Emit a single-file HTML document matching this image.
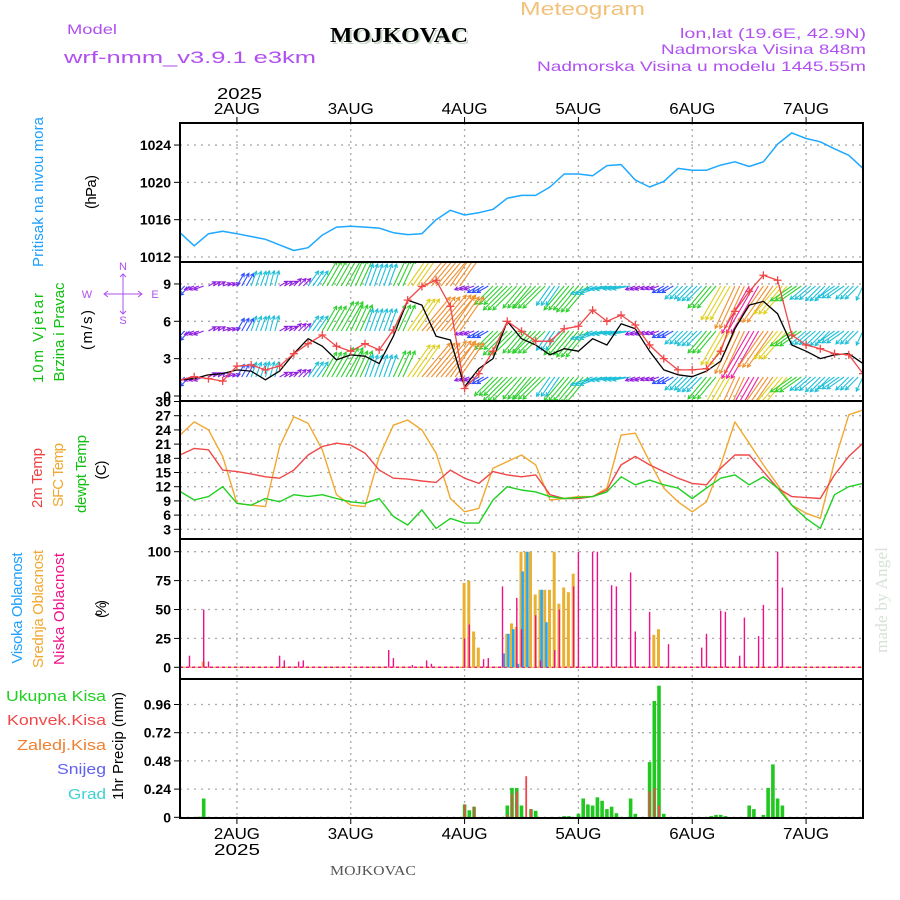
<!DOCTYPE html>
<html><head><meta charset="utf-8"><style>
html,body{margin:0;padding:0;background:#fff;}
svg{display:block;font-family:"Liberation Sans",sans-serif;}
</style></head><body>
<svg id="chart" width="900" height="900" viewBox="0 0 900 900" xmlns="http://www.w3.org/2000/svg">
<rect x="0" y="0" width="900" height="900" fill="#fff"/>
<defs><clipPath id="windclip"><rect x="180" y="262" width="683" height="139"/></clipPath>
<clipPath id="plotclip"><rect x="180" y="123" width="683" height="695"/></clipPath></defs>
<g id="grid"></g>
<g id="marks"></g>
<g id="axes"></g>

<text x="520" y="15" font-size="18" fill="#f2c27a" textLength="125" lengthAdjust="spacingAndGlyphs">Meteogram</text>
<text x="67" y="34" font-size="14" fill="#b050f0" textLength="50" lengthAdjust="spacingAndGlyphs">Model</text>
<text x="64" y="63" font-size="17" fill="#b050f0" textLength="252" lengthAdjust="spacingAndGlyphs">wrf-nmm_v3.9.1 e3km</text>
<text x="332" y="44" font-size="21" font-weight="bold" font-family="Liberation Serif,serif" fill="#c8d8c8" textLength="138" lengthAdjust="spacingAndGlyphs">MOJKOVAC</text>
<text x="330" y="42" font-size="21" font-weight="bold" font-family="Liberation Serif,serif" fill="#000" textLength="138" lengthAdjust="spacingAndGlyphs">MOJKOVAC</text>
<text x="866" y="38" font-size="14" fill="#b050f0" text-anchor="end" textLength="186" lengthAdjust="spacingAndGlyphs">lon,lat (19.6E, 42.9N)</text>
<text x="866" y="54" font-size="14" fill="#b050f0" text-anchor="end" textLength="205" lengthAdjust="spacingAndGlyphs">Nadmorska Visina 848m</text>
<text x="866" y="71" font-size="14" fill="#b050f0" text-anchor="end" textLength="329" lengthAdjust="spacingAndGlyphs">Nadmorska Visina u modelu 1445.55m</text>

<text transform="translate(43,192) rotate(-90)" font-size="15" fill="#1ea0ff" text-anchor="middle" textLength="150" lengthAdjust="spacing">Pritisak na nivou mora</text>
<text transform="translate(96,192) rotate(-90)" font-size="15" fill="#000" text-anchor="middle" textLength="34" lengthAdjust="spacing">(hPa)</text>
<text transform="translate(43,338) rotate(-90)" font-size="15" fill="#10c010" text-anchor="middle" textLength="90" lengthAdjust="spacing">10m Vjetar</text>
<text transform="translate(64,332) rotate(-90)" font-size="15" fill="#10c010" text-anchor="middle" textLength="99" lengthAdjust="spacing">Brzina i Pravac</text>
<text transform="translate(92,330) rotate(-90)" font-size="15" fill="#000" text-anchor="middle" textLength="40" lengthAdjust="spacing">(m/s)</text>
<text x="123" y="270" font-size="11" fill="#b050f0" text-anchor="middle">N</text>
<text x="123" y="324" font-size="11" fill="#b050f0" text-anchor="middle">S</text>
<text x="87" y="298" font-size="11" fill="#b050f0" text-anchor="middle">W</text>
<text x="155" y="298" font-size="11" fill="#b050f0" text-anchor="middle">E</text>
<path d="M104 294H142M123 274V314M108 291L104 294L108 297M138 291L142 294L138 297M120 277L123 274L126 277M120 311L123 314L126 311" fill="none" stroke="#b050f0" stroke-width="1"/>
<text transform="translate(42,478) rotate(-90)" font-size="15" fill="#f04040" text-anchor="middle" textLength="60" lengthAdjust="spacing">2m Temp</text>
<text transform="translate(63,475) rotate(-90)" font-size="15" fill="#f0a830" text-anchor="middle" textLength="64" lengthAdjust="spacing">SFC Temp</text>
<text transform="translate(86,474) rotate(-90)" font-size="15" fill="#10c010" text-anchor="middle" textLength="78" lengthAdjust="spacing">dewpt Temp</text>
<text transform="translate(106,470) rotate(-90)" font-size="15" fill="#000" text-anchor="middle" textLength="19" lengthAdjust="spacing">(C)</text>
<text transform="translate(22,608) rotate(-90)" font-size="15" fill="#1ea0ff" text-anchor="middle" textLength="111" lengthAdjust="spacing">Visoka Oblacnost</text>
<text transform="translate(43,609) rotate(-90)" font-size="15" fill="#f0a830" text-anchor="middle" textLength="118" lengthAdjust="spacing">Srednja Oblacnost</text>
<text transform="translate(64,609) rotate(-90)" font-size="15" fill="#f0108a" text-anchor="middle" textLength="112" lengthAdjust="spacing">Niska Oblacnost</text>
<text transform="translate(106,609) rotate(-90)" font-size="15" fill="#000" text-anchor="middle" textLength="18" lengthAdjust="spacing">(%)</text>
<g font-size="15" text-anchor="end">
<text x="106" y="701" fill="#20d020" textLength="100" lengthAdjust="spacingAndGlyphs">Ukupna Kisa</text>
<text x="106" y="725" fill="#f04848" textLength="99" lengthAdjust="spacingAndGlyphs">Konvek.Kisa</text>
<text x="106" y="750" fill="#f08030" textLength="89" lengthAdjust="spacingAndGlyphs">Zaledj.Kisa</text>
<text x="106" y="774" fill="#6060f0" textLength="49" lengthAdjust="spacingAndGlyphs">Snijeg</text>
<text x="106" y="799" fill="#40d0d0" textLength="38" lengthAdjust="spacingAndGlyphs">Grad</text>
</g>
<text transform="translate(123,746) rotate(-90)" font-size="15" fill="#000" text-anchor="middle" textLength="108" lengthAdjust="spacing">1hr Precip (mm)</text>
<text transform="translate(887,600) rotate(-90)" font-size="17" font-family="Liberation Serif,serif" fill="#d6e2d6" text-anchor="middle" textLength="106" lengthAdjust="spacing">made by Angel</text>
<text x="330" y="875" font-size="14" font-family="Liberation Serif,serif" fill="#555" textLength="86" lengthAdjust="spacingAndGlyphs">MOJKOVAC</text>
<text x="217" y="99" font-size="16" fill="#000" textLength="45" lengthAdjust="spacingAndGlyphs">2025</text>
<text x="214" y="855" font-size="16" fill="#000" textLength="46" lengthAdjust="spacingAndGlyphs">2025</text>
</svg>
<script>
// hours since 2025-08-01 12Z, 3-hourly samples (0..144)
const hours3 = [0,3,6,9,12,15,18,21,24,27,30,33,36,39,42,45,48,51,54,57,60,63,66,69,72,75,78,81,84,87,90,93,96,99,102,105,108,111,114,117,120,123,126,129,132,135,138,141,144];
const dayLabels = ["2AUG","3AUG","4AUG","5AUG","6AUG","7AUG"];
const dayHours = [12,36,60,84,108,132];
const pressure = [1014.6,1013.2,1014.5,1014.75,1014.5,1014.2,1013.9,1013.3,1012.7,1013.0,1014.35,1015.2,1015.3,1015.2,1015.1,1014.6,1014.4,1014.5,1016.0,1017.0,1016.5,1016.75,1017.1,1018.3,1018.6,1018.6,1019.5,1020.9,1020.9,1020.7,1021.8,1021.9,1020.25,1019.5,1020.1,1021.5,1021.3,1021.3,1021.85,1022.2,1021.7,1022.2,1024.1,1025.3,1024.7,1024.35,1023.6,1022.9,1021.5];
const windSpeed = [1.3,1.4,1.7,1.8,2.1,2.0,1.3,2.0,3.4,4.6,4.0,2.9,3.3,3.2,2.6,4.8,7.7,7.3,4.8,4.5,0.75,2.2,3.0,6.0,4.6,4.1,3.3,3.8,3.6,4.6,4.1,5.8,5.4,3.6,2.1,1.7,1.55,2.0,2.8,5.4,7.3,7.6,6.6,4.1,3.6,3.0,3.3,3.4,2.6];
const windGust = [1.3,1.55,1.4,1.2,2.4,2.5,2.1,2.4,3.4,4.2,4.9,4.0,3.6,4.2,3.7,5.3,7.7,8.8,9.3,7.2,0.6,1.8,3.6,6.0,5.2,4.4,4.4,5.4,5.6,6.9,6.0,6.5,5.7,4.1,3.0,2.1,2.1,2.2,3.6,6.8,8.4,9.7,9.3,4.9,4.1,3.8,3.4,3.3,1.8];
// wind arrow direction (screen angle the arrow points to, deg ccw from east) and speed
const windDir = [225,200,30,20,60,70,75,30,45,55,60,60,65,70,70,65,55,50,50,55,200,210,225,225,230,225,235,230,230,200,190,190,200,200,210,225,225,230,240,245,240,235,230,215,220,225,215,225,245];
const windBarbSpeed = [2.5,2.0,1.6,1.6,2.8,3.0,3.0,1.8,2.0,3.5,5.5,6.5,5.5,4.5,4.5,5.5,7.5,8.5,9.0,8.0,2.0,2.5,5.0,6.5,5.5,6.0,4.5,6.0,6.5,4.5,4.0,3.5,2.0,1.8,2.5,3.5,4.0,5.5,7.5,9.0,10.5,8.5,7.0,5.0,4.0,4.0,4.0,3.5,3.0];
const temp2m = [18.7,20.1,19.8,15.5,15.2,14.7,14.1,13.8,15.5,18.7,20.5,21.2,20.8,19.1,15.5,13.8,13.6,13.2,12.9,15.5,13.8,12.7,15.2,14.5,14.1,14.5,10.3,9.5,9.5,9.9,11.3,16.6,18.4,16.6,15.2,13.8,12.7,12.4,15.9,18.7,18.7,15.2,11.7,9.9,9.7,9.5,14.5,18.4,21.2];
const tempSfc = [22.9,25.7,24.0,18.4,8.5,8.1,7.8,20.5,26.8,25.4,19.8,10.3,8.1,7.8,18.4,25.0,26.1,24.0,19.1,9.5,6.7,7.4,15.9,17.3,18.7,16.6,9.2,9.5,9.9,9.9,11.7,22.9,23.3,17.3,11.7,8.8,6.7,8.8,16.6,25.7,21.2,16.6,12.4,8.1,6.4,5.3,17.3,27.2,28.2];
const tempDew = [11.0,9.2,9.9,12.0,8.5,8.1,9.5,8.8,10.3,9.9,10.3,9.5,8.8,8.5,9.5,5.7,3.9,7.1,3.2,5.3,4.3,4.3,9.2,12.0,11.3,10.9,9.9,9.5,9.7,9.9,10.9,14.1,12.4,13.4,12.4,11.7,9.5,11.7,13.8,14.5,12.4,14.1,11.7,8.1,5.3,3.2,10.3,12.0,12.7];
// cloud cover events (hour, %)
const lowCloudHours = [2,5,6,21,22,25,26,44,45,49,52,53,60,61,64,65,68,71,72,75,76,79,80,83,84,87,88,91,92,95,96,99,103,110,111,114,115,118,119,122,123,126,127];
const lowCloud = [10,50,5,10,6,5,6,15,8,2,6,3,25,37,7,8,70,60,33,45,6,15,50,70,100,100,100,71,70,82,31,48,20,17,29,49,48,10,43,27,54,100,69];
const midCloudHours = [5,60,61,62,63,69,70,71,72,73,74,75,76,77,78,79,80,81,82,83,100,101];
const midCloud = [5,73,75,31,17,29,38,35,100,100,100,63,67,67,67,100,55,69,65,81,28,33];
const highCloudHours = [68,69,70,71,72,73,76,77];
const highCloud = [12,29,33,3,83,100,67,39];
// precipitation (hour, mm)
const totalPrecipHours = [4,5,60,61,62,69,70,71,72,74,75,81,82,84,85,86,87,88,89,90,91,92,95,96,99,100,101,102,112,113,114,115,120,121,123,124,125,126,127];
const totalPrecip = [0.005,0.16,0.11,0.06,0.09,0.1,0.25,0.25,0.1,0.07,0.055,0.01,0.01,0.03,0.16,0.11,0.1,0.17,0.14,0.07,0.09,0.035,0.16,0.03,0.47,0.99,1.12,0.03,0.01,0.02,0.02,0.01,0.1,0.07,0.02,0.25,0.45,0.16,0.1];
const convPrecipHours = [60,62,69,70,71,73,74,99,100,101];
const convPrecip = [0.11,0.09,0.02,0.2,0.22,0.35,0.07,0.22,0.25,0.1];
const pTicks = [1012,1016,1020,1024];
const wTicks = [0,3,6,9];
const tTicks = [3,6,9,12,15,18,21,24,27,30];
const cTicks = [0,25,50,75,100];
const rTicks = [0,0.24,0.48,0.72,0.96];

const NS="http://www.w3.org/2000/svg";
const X0=180, X1=863, PXH=4.743;
const xh = h => X0 + h*PXH;
const yP = p => 257 - (p-1012)*9.33;
const yW = v => 396 - v*12.45;
const yT = t => 529.3 - (t-3)*4.733;
const yC = c => 667.3 - c*1.156;
const yR = r => 817.3 - r*117.5;
const panels = [[123,262],[262,401],[401,539],[539,679],[679,818]];

function mk(tag, parent, attrs){const e=document.createElementNS(NS,tag);for(const k in attrs)e.setAttribute(k,attrs[k]);parent.appendChild(e);return e;}
const grid=document.getElementById('grid'), marks=document.getElementById('marks'), axes=document.getElementById('axes');

dayHours.forEach((h,i)=>{
  const g=mk('line',grid,{x1:xh(h),x2:xh(h),y1:123,y2:818,stroke:'#aaa','stroke-width':1.3,'stroke-dasharray':'2 4'});
  
  
});
function hgrid(ticks, yf, fmt, name){
  ticks.forEach(t=>{
    const y=yf(t);
    const l=mk('line',grid,{x1:X0,x2:X1,y1:y,y2:y,stroke:'#aaa','stroke-width':1.3,'stroke-dasharray':'2 5'});
    
    
    mk('line',axes,{x1:174,x2:X0,y1:y,y2:y,stroke:'#000','stroke-width':1});
    const tx=mk('text',axes,{x:171,y:y+5,'font-size':14,'font-weight':'bold','text-anchor':'end',fill:'#000'});
    tx.textContent=fmt(t);
    
    
  });
}
hgrid(pTicks,yP,t=>String(t),'pressure');
hgrid(wTicks,yW,t=>String(t),'wind');
hgrid(tTicks,yT,t=>String(t),'temp');
hgrid(cTicks,yC,t=>String(t),'cloud');
hgrid(rTicks,yR,t=>t===0?'0':t.toFixed(2),'precip');

function line(vals, yf, color, name, w){
  const d=vals.map((v,i)=>(i?'L':'M')+xh(hours3[i]).toFixed(1)+' '+yf(v).toFixed(1)).join('');
  const p=mk('path',marks,{d:d,fill:'none',stroke:color,'stroke-width':w||1.4,'stroke-linejoin':'round','clip-path':'url(#plotclip)'});
  
  
  return p;
}
line(pressure,yP,'#1ea8ff','pressure-line',1.5);

const windG=mk('g',marks,{'clip-path':'url(#windclip)'});


function windColor(s){if(s<2.2)return '#9020e0';if(s<3)return '#3050ff';if(s<5)return '#20c0d8';if(s<7)return '#30d030';if(s<8)return '#e0d020';if(s<10)return '#f09030';return '#f020a0';}
const rows=[286,331,377];
rows.forEach(by=>{
  for(let h=0;h<=144;h++){
    const i=Math.min(48,Math.floor(h/3));
    const a=windDir[i]*Math.PI/180, L=windBarbSpeed[i]*5.2;
    const x0=xh(h), x1=x0+Math.cos(a)*L, y1=by-Math.sin(a)*L;
    const c=windColor(windBarbSpeed[i]);
    const ar=mk('path',windG,{d:`M${x0.toFixed(1)} ${by}L${x1.toFixed(1)} ${y1.toFixed(1)}M${(x1-Math.cos(a-0.5)*4).toFixed(1)} ${(y1+Math.sin(a-0.5)*4).toFixed(1)}L${x1.toFixed(1)} ${y1.toFixed(1)}L${(x1-Math.cos(a+0.5)*4).toFixed(1)} ${(y1+Math.sin(a+0.5)*4).toFixed(1)}`,stroke:c,'stroke-width':1.1,fill:'none'});
    
    
  }
});
line(windSpeed,yW,'#000','wind-speed-line',1.3);
line(windGust,yW,'#f04848','wind-gust-line',1.3);
windGust.forEach((v,i)=>{
  const x=xh(hours3[i]), y=yW(v);
  const m=mk('path',marks,{d:`M${x-4} ${y}H${x+4}M${x} ${y-4}V${y+4}`,stroke:'#f04848','stroke-width':1.3,'clip-path':'url(#windclip)'});
  
  
});

line(tempSfc,yT,'#f0a830','temp-sfc-line',1.4);
line(temp2m,yT,'#f04848','temp-2m-line',1.4);
line(tempDew,yT,'#20d020','temp-dewpt-line',1.4);

const zl=mk('line',marks,{x1:X0,x2:X1,y1:yC(0),y2:yC(0),stroke:'#f0108a','stroke-width':1.5,'stroke-dasharray':'3 3'});


const zl2=mk('line',marks,{x1:X0+3,x2:X1,y1:yC(0),y2:yC(0),stroke:'#f0a830','stroke-width':1,'stroke-dasharray':'3 3'});


function bars(hs, vals, yf, color, w, off, name){
  hs.forEach((h,i)=>{
    const x=xh(h)+off, y=yf(vals[i]), y0=yf(0);
    const r=mk('rect',marks,{x:(x-w/2).toFixed(1),y:y.toFixed(1),width:w,height:Math.max(0.5,y0-y).toFixed(1),fill:color});
    
    
  });
}
bars(midCloudHours,midCloud,yC,'#eab030',3,-0.5,'mid-cloud-bar');
bars(highCloudHours,highCloud,yC,'#1ea8ff',2.5,1.2,'high-cloud-bar');
bars(lowCloudHours,lowCloud,yC,'#f0108a',1.4,0,'low-cloud-bar');

bars(totalPrecipHours,totalPrecip,yR,'#20c820',3.6,0,'total-precip-bar');
bars(convPrecipHours,convPrecip,yR,'#f04848',1.8,0,'convective-precip-bar');

panels.forEach((p,i)=>{
  const r=mk('rect',axes,{x:X0,y:p[0],width:X1-X0,height:p[1]-p[0],fill:'none',stroke:'#000','stroke-width':2});
  
  
});
dayHours.forEach((h,i)=>{
  const x=xh(h);
  mk('line',axes,{x1:x,x2:x,y1:117,y2:123,stroke:'#000'});
  mk('line',axes,{x1:x,x2:x,y1:818,y2:824,stroke:'#000'});
  const t=mk('text',axes,{x:x,y:114,'font-size':16,'text-anchor':'middle',fill:'#000',textLength:46,lengthAdjust:'spacingAndGlyphs'});
  t.textContent=dayLabels[i];
  
  
  const b=mk('text',axes,{x:x,y:839,'font-size':16,'text-anchor':'middle',fill:'#000',textLength:46,lengthAdjust:'spacingAndGlyphs'});
  b.textContent=dayLabels[i];
  
  
});
</script>
</body></html>
